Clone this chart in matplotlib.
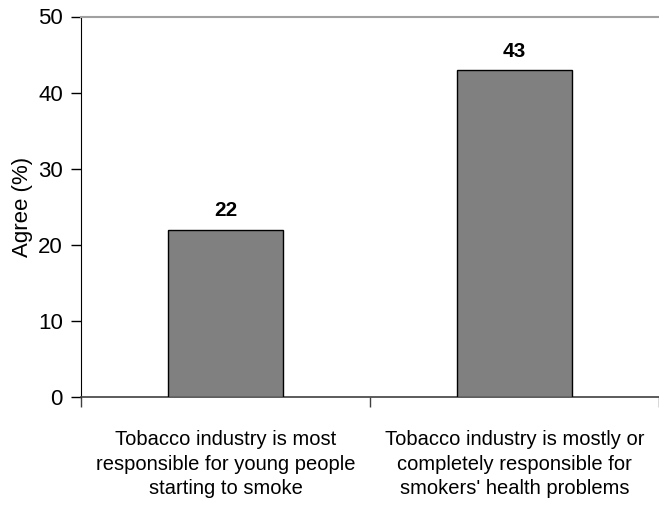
import matplotlib
matplotlib.use("Agg")
import matplotlib.pyplot as plt

categories = [
    "Tobacco industry is most\nresponsible for young people\nstarting to smoke",
    "Tobacco industry is mostly or\ncompletely responsible for\nsmokers' health problems",
]
values = [22, 43]
yticks = [0, 10, 20, 30, 40, 50]
ylabel = "Agree (%)"

plt.rcParams['font.family'] = ['Liberation Sans', 'DejaVu Sans']

W, H = 659, 513
fig = plt.figure(figsize=(W / 100, H / 100), dpi=100)
left = 81 / W
bottom = 1 - 397 / H
top = 1 - 16.5 / H
ax = fig.add_axes([left, bottom, 1 - left, top - bottom])

x = list(range(len(values)))
ax.bar(x, values, width=0.4, color="#808080", edgecolor="#000000", linewidth=1.0, zorder=3)

ax.set_ylim(0, 50)
ax.set_xlim(-0.5, -0.5 + (W - 81) / 291)
ax.set_yticks(yticks)
ax.set_yticklabels([str(v) for v in yticks], fontsize=16)
ax.tick_params(axis='y', direction='out', length=7, width=1, pad=6, colors='black')

ax.set_xticks([-0.5, 0.5, 1.5])
ax.set_xticklabels([])
ax.tick_params(axis='x', which='major', direction='out', length=7, width=1, color='#404040')
ax.set_xticks(x, minor=True)
ax.set_xticklabels(categories, minor=True, fontsize=14.5, linespacing=1.36)
ax.tick_params(axis='x', which='minor', length=0, pad=24)

for xi, v in zip(x, values):
    ax.annotate(str(v), (xi, v), xytext=(0, 9.5), textcoords='offset points',
                ha='center', va='baseline', fontsize=15, fontweight='bold')

ax.spines['right'].set_visible(False)
ax.spines['top'].set_color('#a0a0a0')
ax.spines['top'].set_linewidth(1.5)
ax.spines['left'].set_color('black')
ax.spines['bottom'].set_color('#404040')
ax.spines['bottom'].set_linewidth(1.2)

ax.set_ylabel(ylabel, fontsize=16, labelpad=4)

fig.savefig("out.png", dpi=100)
